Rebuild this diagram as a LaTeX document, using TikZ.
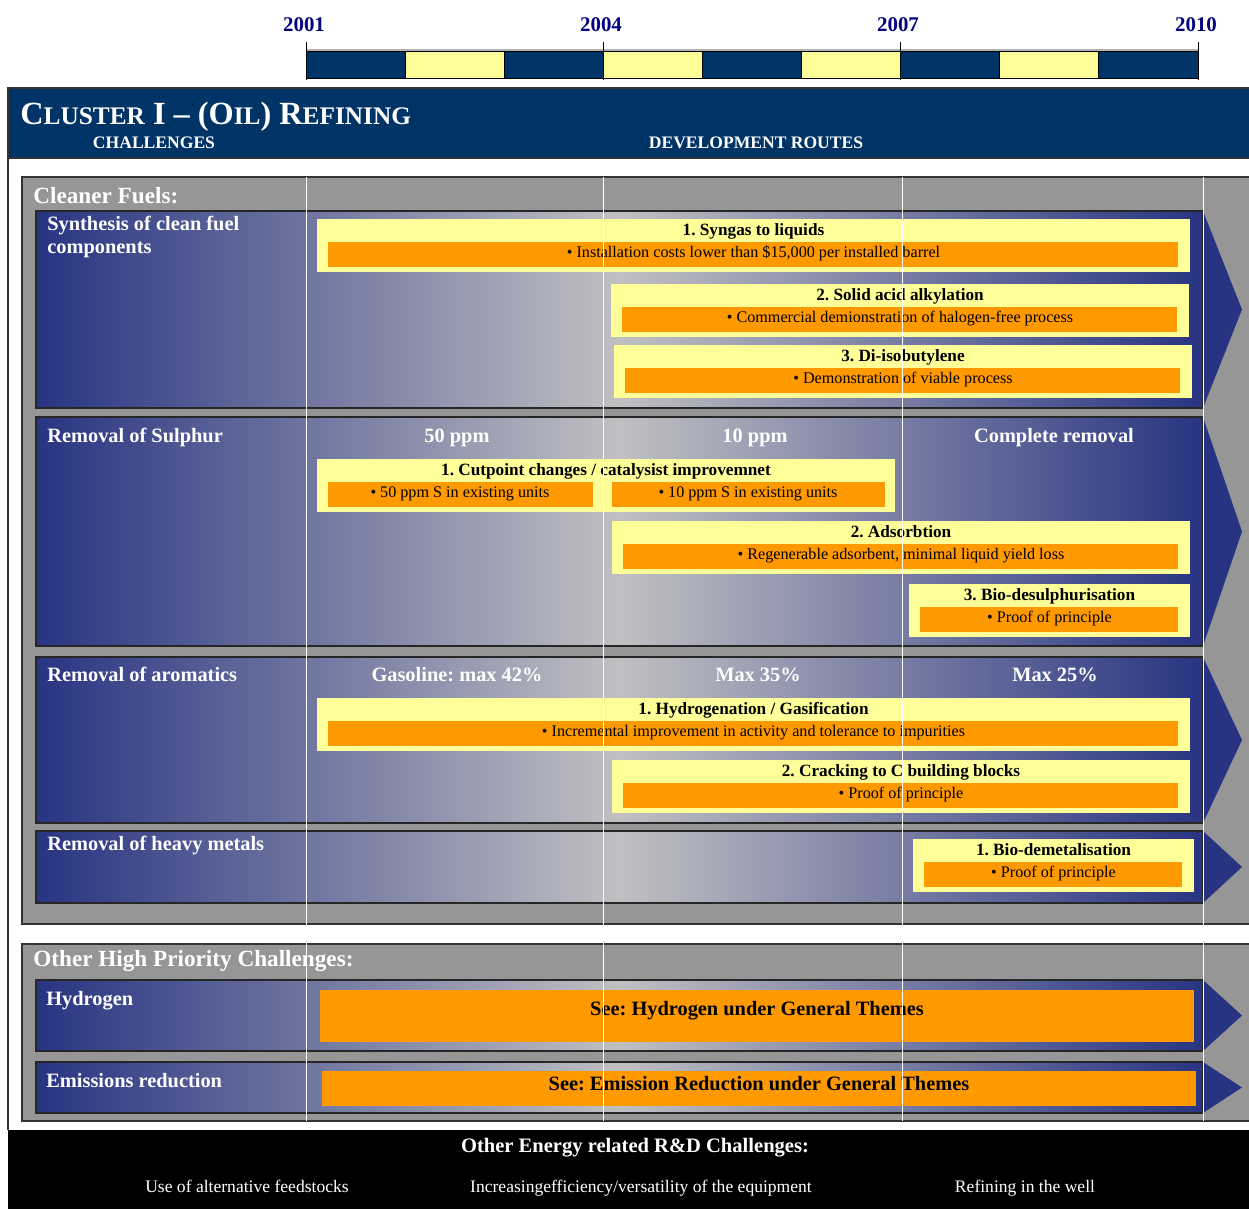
\documentclass[tikz,border=0pt]{standalone}
\usepackage{fontspec}
\setmainfont{Liberation Serif}
\usepackage{tikz}
\usetikzlibrary{calc}
\definecolor{hdrblue}{RGB}{0,51,102}
\definecolor{rowblue}{RGB}{40,52,130}
\definecolor{midgray}{RGB}{192,192,194}
\definecolor{panelgray}{RGB}{150,150,150}
\definecolor{ybox}{RGB}{255,255,153}
\definecolor{obar}{RGB}{255,153,0}
\definecolor{yearblue}{RGB}{0,0,128}
\newcommand{\lowcaps}[1]{{\fontsize{14.4}{16}\selectfont #1}}
\frenchspacing

\begin{document}
\begin{tikzpicture}
    [   x=0.02cm
    ,   y=-0.02cm
    ,   yearlabel/.style=
        {   anchor=base
        ,   inner sep=0pt
        ,   text=yearblue
        ,   font=\fontsize{11.9}{14}\selectfont\bfseries
        }
    ,   rowlabel/.style=
        {   anchor=base west
        ,   inner sep=0pt
        ,   text=white
        ,   font=\fontsize{11.6}{13.2}\selectfont\bfseries
        }
    ,   colhead/.style=
        {   anchor=base
        ,   inner sep=0pt
        ,   text=white
        ,   font=\fontsize{11.6}{13}\selectfont\bfseries
        }
    ,   paneltitle/.style=
        {   anchor=base west
        ,   inner sep=0pt
        ,   text=white
        ,   font=\fontsize{13.2}{15}\selectfont\bfseries
        }
    ,   btitle/.style=
        {   anchor=base
        ,   inner sep=0pt
        ,   font=\fontsize{9.8}{11}\selectfont\bfseries
        }
    ,   btext/.style=
        {   anchor=base
        ,   inner sep=0pt
        ,   font=\fontsize{9.2}{11}\selectfont
        }
    ,   seetext/.style=
        {   anchor=base
        ,   inner sep=0pt
        ,   font=\fontsize{11.6}{13}\selectfont\bfseries
        }
    ,   bandtext/.style=
        {   anchor=base
        ,   inner sep=0pt
        ,   text=white
        ,   font=\fontsize{10}{12}\selectfont
        }
    ,   rowbar/.style=
        {   left color=rowblue
        ,   right color=rowblue
        ,   middle color=midgray
        }
    ,   frameline/.style=
        {   draw=black!80
        ,   line width=0.6pt
        }
    ]
    \useasboundingbox (0,0) rectangle (1249,1209);
    \clip (0,0) rectangle (1249,1209);

    % time line
    \fill[hdrblue] (306,51) rectangle (1198,78);
    \foreach\i in {1,3,5,7}
    {   \fill[ybox] (306+99.11*\i,51) rectangle (405.11+99.11*\i,78);
    }
    \foreach\i in {0,...,8}
    {   \draw[line width=0.5pt] (306+99.11*\i,51) rectangle (405.11+99.11*\i,78);
    }
    \draw[black!30, line width=0.6pt] (306,50) -- (1198,50);
    \foreach\yr/\xx in {2001/306,2004/603,2007/900,2010/1198}
    {   \draw[line width=0.4pt] (\xx,42) -- (\xx,80);
        \node[yearlabel] (Y\yr) at (\xx-2,32) {\yr};
    }

    % header
    \fill[hdrblue] (8,88) rectangle (1249,158);
    \draw[frameline] (1260,88) -- (8,88) -- (8,1130);
    \draw[frameline] (8,158) -- (1260,158);
    \node[anchor=base west, inner sep=0pt, text=white,
          font=\fontsize{18.4}{20}\selectfont\bfseries]
        (Title) at (20,125) {C\lowcaps{LUSTER} I -- (O\lowcaps{IL}) R\lowcaps{EFINING}};
    \node[colhead, font=\fontsize{10}{12}\selectfont\bfseries] (Chal) at (154,149) {CHALLENGES};
    \node[colhead, font=\fontsize{10}{12}\selectfont\bfseries] (Dev) at (756,149) {DEVELOPMENT ROUTES};

    % panels
    \filldraw[fill=panelgray, frameline] (22,177) rectangle (1260,924);
    \filldraw[fill=panelgray, frameline] (22,944) rectangle (1260,1121);
    \node[paneltitle] (Clean) at (33,204) {Cleaner Fuels:};
    \node[paneltitle] (Other) at (33,967) {Other High Priority Challenges:};

    % rows with arrow heads
    \foreach\ya/\yb in {211/408,417/646,657/823,831/903,980/1051,1062/1113}
    {   \shade[rowbar] (36,\ya) rectangle (1203,\yb);
        \draw[black!85, line width=0.6pt] (36,\ya) rectangle (1203,\yb);
        \fill[rowblue] (1203,\ya) -- (1242,{(\ya+\yb)/2}) -- (1203,\yb) -- cycle;
    }

    \node[rowlabel, anchor=north west, align=left] (Rsyn) at (47,216)
        {Synthesis of clean fuel\\components};
    \node[rowlabel] (Rsul) at (47,443) {Removal of Sulphur};
    \node[rowlabel] (Raro) at (47,682) {Removal of aromatics};
    \node[rowlabel] (Rmet) at (47,850) {Removal of heavy metals};
    \node[rowlabel] (Rhyd) at (46,1005) {Hydrogen};
    \node[rowlabel] (Remi) at (46,1087) {Emissions reduction};

    \node[colhead] (S50) at (457,443) {50 ppm};
    \node[colhead] (S10) at (755,443) {10 ppm};
    \node[colhead] (S0) at (1054,443) {Complete removal};
    \node[colhead] (A42) at (457,682) {Gasoline: max 42\%};
    \node[colhead] (A35) at (758,682) {Max 35\%};
    \node[colhead] (A25) at (1055,682) {Max 25\%};

    % routes
    \foreach\nm/\xa/\xb/\yt/\ttl/\bul in
    {   Syn1/317/1190/219/{1. Syngas to liquids}/{Installation costs lower than \$15,000 per installed barrel}
    ,   Syn2/611/1189/284/{2. Solid acid alkylation}/{Commercial demionstration of halogen-free process}
    ,   Syn3/614/1192/345/{3. Di-isobutylene}/{Demonstration of viable process}
    ,   Sul2/612/1190/521/{2. Adsorbtion}/{Regenerable adsorbent, minimal liquid yield loss}
    ,   Sul3/909/1190/584/{3. Bio-desulphurisation}/{Proof of principle}
    ,   Aro1/317/1190/698/{1. Hydrogenation / Gasification}/{Incremental improvement in activity and tolerance to impurities}
    ,   Aro2/612/1190/760/{2. Cracking to C building blocks}/{Proof of principle}
    ,   Met1/913/1194/839/{1. Bio-demetalisation}/{Proof of principle}
    }
    {   \fill[ybox] (\xa,\yt) rectangle (\xb,\yt+53);
        \fill[obar] (\xa+11,\yt+23) rectangle (\xb-12,\yt+48);
        \node[btitle] (\nm T) at ({(\xa+\xb)/2},\yt+17) {\ttl};
        \node[btext] (\nm B) at ({(\xa+\xb)/2},\yt+39) {\textbullet\ \bul};
    }
    \fill[ybox] (317,459) rectangle (895,512);
    \fill[obar] (328,482) rectangle (593,507);
    \fill[obar] (612,482) rectangle (885,507);
    \node[btitle] (Sul1T) at (606,476) {1. Cutpoint changes / catalysist improvemnet};
    \node[btext] (Sul1B) at (460,498) {\textbullet\ 50 ppm S in existing units};
    \node[btext] (Sul1C) at (748,498) {\textbullet\ 10 ppm S in existing units};

    \fill[obar] (320,990) rectangle (1194,1042);
    \fill[obar] (322,1071) rectangle (1196,1106);
    \node[seetext] (Hyd) at (757,1015) {See: Hydrogen under General Themes};
    \node[seetext] (Emi) at (759,1090) {See: Emission Reduction under General Themes};

    % year grid
    \foreach\xx in {306,603,902,1203}
    {   \draw[white, line width=0.5pt] (\xx,177) -- (\xx,1121);
    }

    % other challenges
    \fill[black] (8,1130) rectangle (1249,1209);
    \node[bandtext, font=\fontsize{11.7}{13}\selectfont\bfseries] (Band) at (635,1152)
        {Other Energy related R\&D Challenges:};
    \node[bandtext] (Feed) at (247,1192) {Use of alternative feedstocks};
    \node[bandtext] (Equip) at (641,1192) {Increasingefficiency/versatility of the equipment};
    \node[bandtext] (Well) at (1025,1192) {Refining in the well};
\end{tikzpicture}
\end{document}
